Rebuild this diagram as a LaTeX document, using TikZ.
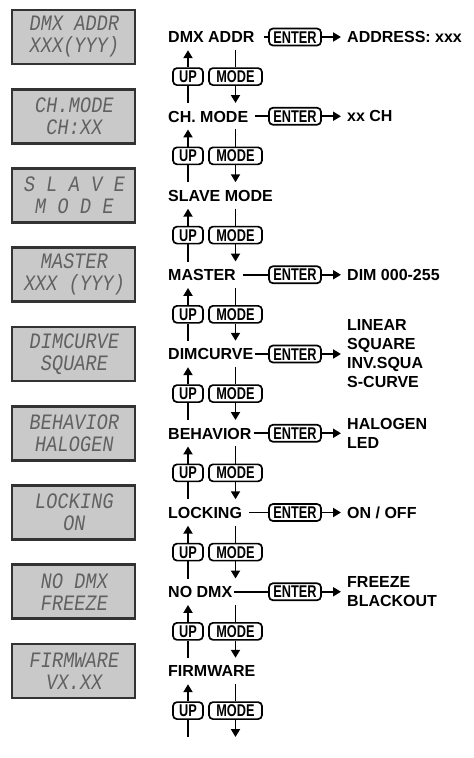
\documentclass[tikz,border=0pt]{standalone}
\usepackage{fontspec}
\setmainfont{Liberation Sans}
\newfontfamily\lcdfont{Liberation Mono}[FakeSlant=0.15,FakeStretch=0.85]
\newfontfamily\keyfont{Liberation Sans}[FakeStretch=0.75]
\usetikzlibrary{arrows.meta}

\tikzset{
  lcd/.style={draw=black!80, line width=2.6pt, fill=black!21, minimum width=123pt,
    minimum height=54pt, inner sep=0pt, align=center, text=black!62,
    font=\lcdfont\fontsize{22}{22}\selectfont},
  menu/.style={anchor=west, inner xsep=1pt, inner ysep=7.25pt, text height=11.5pt,
    text depth=0pt, font=\bfseries\fontsize{16}{19}\selectfont},
  key/.style={draw, line width=1.7pt, rounded corners=4pt, minimum height=17pt,
    inner sep=0pt, text height=12pt, text depth=0pt,
    font=\keyfont\bfseries\fontsize{17}{17}\selectfont},
  value/.style={anchor=west, align=left, inner sep=0pt,
    font=\bfseries\fontsize{16}{19}\selectfont},
  conn/.style={line width=1.9pt},
  tip/.style={conn, -{Triangle[length=8pt,width=9pt]}}
}

\begin{document}
\begin{tikzpicture}[x=1pt, y=-1pt]
    \useasboundingbox (0,0) rectangle (474,758);
    \foreach[count=\i] \lcdtop/\lcdbot/\mname in {DMX ADDR/XXX(YYY)/DMX ADDR,
        CH.MODE/CH:XX/CH. MODE, S L A V E/M O D E/SLAVE MODE,
        MASTER/XXX (YYY)/MASTER, DIMCURVE/SQUARE/DIMCURVE,
        BEHAVIOR/HALOGEN/BEHAVIOR, LOCKING/ON/LOCKING,
        NO DMX/FREEZE/NO DMX, FIRMWARE/VX.XX/FIRMWARE} {
        \pgfmathsetmacro\ry{37+79.25*(\i-1)}
        \node[lcd] (lcd\i) at (73.5,\ry) {\lcdtop\\\lcdbot};
        \node[menu] (lab\i) at (167,\ry) {\mname};
        \node[key, minimum width=30pt] (up\i) at (188,\ry+39.6) {UP};
        \node[key, minimum width=53pt] (mode\i) at (235.5,\ry+39.6) {MODE};
        \coordinate (nx\i) at (167,\ry+66);
        \draw[conn] (up\i |- nx\i) -- (up\i.south);
        \draw[tip] (up\i.north) -- (up\i |- lab\i.south);
        \draw[conn] (mode\i |- lab\i.south) -- (mode\i.north);
        \draw[tip] (mode\i.south) -- (mode\i |- nx\i);
    }
    \foreach \i/\gap/\val in {1/8/{ADDRESS: xxx}, 2/6/{xx CH}, 4/6/{DIM 000-255},
        5/1/{LINEAR\\SQUARE\\INV.SQUA\\S-CURVE}, 6/1/{HALOGEN\\LED},
        7/6/{ON / OFF}, 8/1/{FREEZE\\BLACKOUT}} {
        \pgfmathsetmacro\ry{37+79.25*(\i-1)}
        \node[key, minimum width=52pt] (enter\i) at (295,\ry) {ENTER};
        \node[value] (val\i) at (347,\ry) {\val};
        \draw[conn, shorten <=\gap pt] (lab\i.east) -- (enter\i.west);
        \draw[tip, shorten >=6pt] (enter\i.east) -- (val\i.west);
    }
\end{tikzpicture}
\end{document}
